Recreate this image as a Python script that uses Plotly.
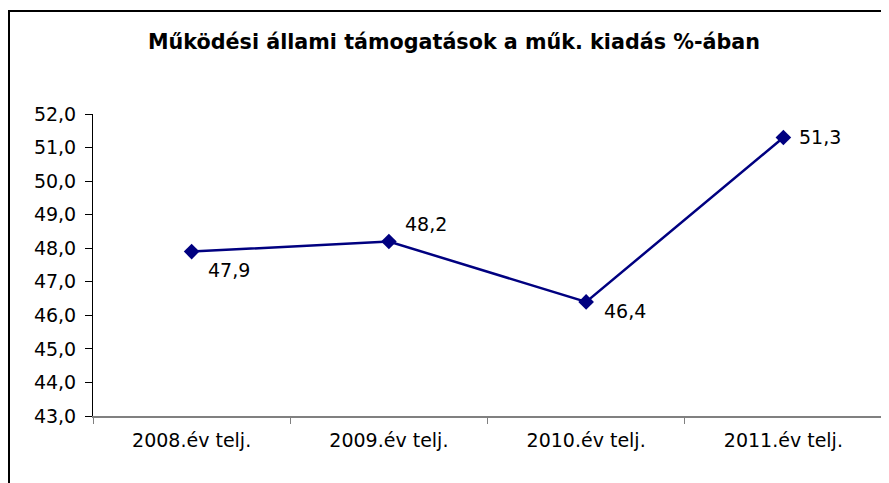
import plotly.graph_objects as go

categories = ["2008.év telj.", "2009.év telj.", "2010.év telj.", "2011.év telj."]
values = [47.9, 48.2, 46.4, 51.3]
y_ticks = [43, 44, 45, 46, 47, 48, 49, 50, 51, 52]
title_text = "Működési állami támogatások a műk. kiadás %-ában"

# label offsets (pixels) for data labels: (xshift, yshift)
label_offsets = [(14, -18), (14, 18), (16, -9), (14, 0)]

FONT = "DejaVu Sans"
OFF = 8  # page body margin in the browser
W, H = 889 - OFF, 483 - OFF
L, R, T, B = 93 - OFF, 7, 114 - OFF, 67

fig = go.Figure()
fig.add_trace(go.Scatter(
    x=categories, y=values, mode="lines+markers",
    line=dict(color="#000080", width=2.5),
    marker=dict(symbol="diamond", size=12, color="#000080"),
    hoverinfo="skip", showlegend=False,
))

for c, v, (dx, dy) in zip(categories, values, label_offsets):
    fig.add_annotation(
        x=c, y=v, text=f"{v:.1f}".replace(".", ","), showarrow=False,
        xanchor="left", yanchor="middle", xshift=dx, yshift=dy,
        font=dict(family=FONT, size=19, color="black"),
    )

pw = W - L - R
ph = H - T - B
fig.add_shape(
    type="rect", xref="paper", yref="paper",
    x0=(1 - L) / pw, x1=(W + 20 - L) / pw,
    y0=(H - B - (H + 20)) / ph, y1=(H - B - 3) / ph,
    line=dict(color="black", width=2), fillcolor="rgba(0,0,0,0)", layer="below",
)

fig.update_layout(
    width=W, height=H,
    margin=dict(l=L, r=R, t=T, b=B),
    paper_bgcolor="white", plot_bgcolor="white",
    separators=", ",
    title=dict(
        text=f"<b>{title_text}</b>", x=(454 - OFF) / W, xref="container", xanchor="center",
        y=1 - (42 - OFF) / H, yref="container", yanchor="middle",
        font=dict(family=FONT, size=20.7, color="black"),
    ),
    xaxis=dict(
        type="category", range=[-0.5, 3.5], tickson="boundaries",
        showline=True, linecolor="#808080", linewidth=2,
        ticks="outside", ticklen=6, tickcolor="#808080", tickwidth=1,
        showgrid=False, zeroline=False,
        tickfont=dict(family=FONT, size=19, color="black"),
        ticklabelstandoff=6,
    ),
    yaxis=dict(
        range=[43, 52], tickvals=y_ticks, tickformat=".1f",
        showline=True, linecolor="black", linewidth=1,
        ticks="outside", ticklen=7, tickcolor="black", tickwidth=1,
        showgrid=False, zeroline=False,
        tickfont=dict(family=FONT, size=19, color="black"),
        ticklabelstandoff=5,
    ),
)

fig.write_html("out.html")
